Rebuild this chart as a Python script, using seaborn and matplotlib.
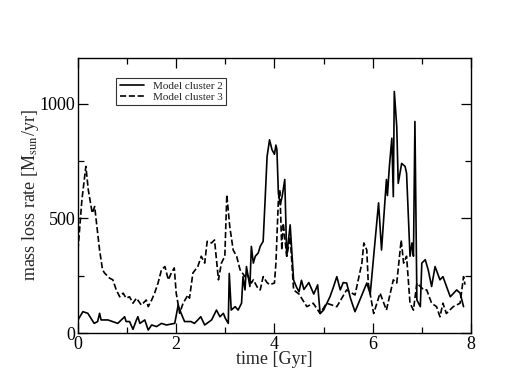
import numpy as np
import pandas as pd
import seaborn as sns
import matplotlib
matplotlib.use('Agg')
import matplotlib.pyplot as plt
from matplotlib.ticker import MultipleLocator

# cluster 2 (solid)
t2 = [0.0, 0.1, 0.2, 0.33, 0.4, 0.44, 0.47, 0.61, 0.81, 0.95, 0.98, 1.05, 1.12, 1.19, 1.22, 1.26,
      1.36, 1.43, 1.5, 1.6, 1.7, 1.8, 1.97, 2.04, 2.1, 2.17, 2.3, 2.37, 2.44, 2.5, 2.58, 2.72,
      2.82, 2.89, 2.96, 3.0, 3.06, 3.08, 3.12, 3.2, 3.26, 3.33, 3.36, 3.4, 3.43, 3.5, 3.53, 3.57,
      3.61, 3.67, 3.71, 3.77, 3.81, 3.85, 3.9, 3.95, 4.0, 4.03, 4.05, 4.08, 4.12, 4.16, 4.21, 4.25,
      4.32, 4.39, 4.45, 4.5, 4.55, 4.6, 4.7, 4.8, 4.88, 4.93, 5.0, 5.13, 5.2, 5.27, 5.34, 5.4,
      5.47, 5.55, 5.64, 5.75, 5.88, 5.95, 6.02, 6.12, 6.18, 6.28, 6.3, 6.34, 6.39, 6.42, 6.44, 6.49,
      6.52, 6.59, 6.66, 6.69, 6.76, 6.8, 6.83, 6.86, 6.9, 6.97, 7.0, 7.07, 7.13, 7.2, 7.27, 7.37,
      7.43, 7.58, 7.71, 7.78, 7.85]
m2 = [57, 93, 86, 42, 50, 86, 57, 57, 42, 71, 50, 50, 16, 57, 71, 42,
      57, 13, 35, 28, 42, 35, 42, 122, 86, 50, 50, 42, 57, 71, 35, 57,
      100, 71, 86, 64, 42, 260, 100, 115, 100, 130, 246, 188, 290, 203, 378, 305,
      335, 349, 378, 400, 581, 770, 843, 800, 780, 820, 800, 610, 560, 600, 670, 335,
      472, 231, 200, 180, 230, 190, 220, 170, 210, 85, 100, 158, 200, 246, 188, 220,
      218, 150, 93, 150, 218, 170, 335, 568, 362, 670, 600, 727, 850, 595, 1054, 901,
      653, 740, 727, 697, 335, 393, 335, 923, 144, 115, 305, 320, 276, 203, 290, 232,
      246, 158, 188, 174, 115]

# cluster 3 (dashed)
t3 = [0.0, 0.08, 0.16, 0.21, 0.29, 0.34, 0.37, 0.44, 0.5, 0.54, 0.64, 0.71, 0.78, 0.85, 0.92, 0.98,
      1.05, 1.12, 1.19, 1.29, 1.39, 1.43, 1.5, 1.56, 1.63, 1.7, 1.77, 1.84, 1.9, 1.96, 2.0, 2.07,
      2.14, 2.24, 2.27, 2.34, 2.44, 2.51, 2.58, 2.63, 2.72, 2.78, 2.86, 2.92, 2.99, 3.03, 3.09, 3.16,
      3.23, 3.3, 3.4, 3.43, 3.53, 3.57, 3.65, 3.71, 3.77, 3.85, 3.9, 4.0, 4.03, 4.08, 4.11, 4.15,
      4.18, 4.25, 4.32, 4.39, 4.5, 4.66, 4.79, 4.93, 5.06, 5.27, 5.47, 5.64, 5.78, 5.82, 5.88, 5.91,
      6.02, 6.15, 6.28, 6.42, 6.49, 6.58, 6.63, 6.69, 6.76, 6.83, 6.9, 7.04, 7.1, 7.2, 7.3, 7.37,
      7.43, 7.5, 7.64, 7.78, 7.85, 7.88]
m3 = [362, 581, 727, 625, 523, 552, 494, 362, 276, 262, 240, 232, 188, 158, 174, 152,
      158, 130, 152, 122, 144, 115, 144, 174, 218, 276, 290, 232, 262, 284, 174, 86,
      130, 166, 152, 262, 290, 335, 305, 400, 393, 406, 232, 305, 335, 603, 465, 362,
      335, 276, 246, 262, 218, 232, 200, 188, 246, 220, 211, 218, 305, 581, 625, 362,
      479, 335, 420, 188, 170, 115, 130, 85, 130, 115, 188, 166, 305, 393, 362, 218,
      85, 174, 100, 232, 218, 406, 305, 335, 130, 100, 218, 188, 188, 130, 115, 71,
      130, 85, 115, 130, 246, 211]

df2 = pd.DataFrame({'time': t2, 'rate': m2})
df3 = pd.DataFrame({'time': t3, 'rate': m3})

sns.set_theme(style='ticks')
plt.rcParams['font.family'] = ['Liberation Serif', 'DejaVu Serif']
plt.rcParams['mathtext.fontset'] = 'stix'

fig = plt.figure(figsize=(5.08, 3.92), dpi=100)
ax = fig.add_axes([0.1535, 0.1505, 0.7735, 0.7015])

sns.lineplot(data=df2, x='time', y='rate', ax=ax, color='black', lw=1.2, label='Model cluster 2')
sns.lineplot(data=df3, x='time', y='rate', ax=ax, color='black', lw=1.2, linestyle='--',
             dashes=(5, 3), label='Model cluster 3')

ax.set_xlim(0, 8)
ax.set_ylim(0, 1200)
ax.xaxis.set_major_locator(MultipleLocator(2))
ax.xaxis.set_minor_locator(MultipleLocator(1))
ax.yaxis.set_major_locator(MultipleLocator(500))
ax.yaxis.set_minor_locator(MultipleLocator(250))
ax.tick_params(which='both', direction='in', top=True, right=True, labelsize=13, colors='black', width=0.9)
ax.tick_params(which='major', length=7, pad=2)
ax.tick_params(which='minor', length=4)
for s in ax.spines.values():
    s.set_linewidth(1.0)
    s.set_color('black')

ax.set_xlabel('time [Gyr]', fontsize=13, labelpad=-1)
ax.set_ylabel(r'mass loss rate [M$_{\mathrm{sun}}$/yr]', fontsize=13, labelpad=-1)

leg = ax.legend(loc='upper left', bbox_to_anchor=(0.098, 0.928), fontsize=8, frameon=True,
                fancybox=False, handlelength=2.2, borderpad=0.3, labelspacing=0.1,
                handletextpad=0.8, borderaxespad=0)
leg.get_frame().set_edgecolor('black')
leg.get_frame().set_linewidth(0.8)

fig.savefig('out.png', dpi=100)
